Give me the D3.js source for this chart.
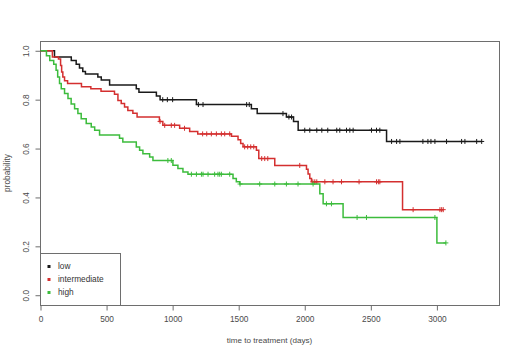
<!DOCTYPE html>
<html>
  <head>
    <title>KM curves</title>
    <script src="https://cdn.jsdelivr.net/npm/d3@7"></script>
    <style>
      body { margin: 0; background: #fff; }
      text { font-family: "Liberation Sans", Arial, sans-serif; }
    </style>
  </head>
  <body>
    <svg id="container" width="520" height="356"></svg>
    <script>
      // step times (days) and survival after each step, plus censor times
      const groups = ["low", "intermediate", "high"];
      const colors = ["#1a1a1a", "#d42f2f", "#3cbc3c"];

      const lowTimes = [106, 233, 270, 295, 320, 340, 434, 460, 523, 725, 745, 877, 905, 1180, 1596, 1640, 1861, 1915, 1950, 2619];
      const lowSurv = [0.975, 0.96, 0.945, 0.93, 0.915, 0.905, 0.893, 0.88, 0.86, 0.845, 0.83, 0.815, 0.80, 0.78, 0.763, 0.743, 0.729, 0.711, 0.675, 0.629];
      const lowCensor = [925, 960, 1000, 1195, 1230, 1560, 1580, 1835, 1880, 1900, 2000, 2038, 2091, 2129, 2174, 2242, 2265, 2316, 2341, 2366, 2505, 2543, 2568, 2657, 2695, 2720, 2894, 2932, 2955, 2985, 3073, 3187, 3212, 3301, 3339];

      const midTimes = [90, 136, 152, 160, 169, 182, 205, 310, 381, 458, 560, 586, 611, 636, 661, 699, 731, 900, 926, 1053, 1129, 1190, 1445, 1495, 1515, 1533, 1634, 1652, 1773, 2013, 2025, 2038, 2051, 2740];
      const midSurv = [0.975, 0.966, 0.94, 0.913, 0.893, 0.877, 0.866, 0.853, 0.845, 0.834, 0.822, 0.797, 0.784, 0.77, 0.756, 0.744, 0.729, 0.711, 0.695, 0.683, 0.67, 0.66, 0.65, 0.636, 0.621, 0.607, 0.593, 0.559, 0.531, 0.515, 0.496, 0.478, 0.464, 0.35];
      const midCensor = [905, 940, 990, 1015, 1090, 1227, 1258, 1293, 1331, 1369, 1394, 1432, 1545, 1568, 1591, 1614, 1674, 1697, 1720, 1962, 2061, 2076, 2091, 2152, 2214, 2278, 2411, 2543, 2557, 2568, 2820, 3023, 3036, 3048];

      const highTimes = [45, 70, 100, 118, 130, 144, 157, 182, 208, 232, 258, 283, 308, 346, 384, 410, 447, 598, 623, 725, 750, 775, 826, 851, 1002, 1040, 1078, 1116, 1457, 1482, 1508, 2114, 2139, 2290, 3000];
      const highSurv = [0.98, 0.96, 0.945, 0.92, 0.893, 0.866, 0.845, 0.825, 0.805, 0.782, 0.763, 0.743, 0.722, 0.702, 0.688, 0.675, 0.655, 0.642, 0.627, 0.606, 0.593, 0.579, 0.565, 0.551, 0.532, 0.518, 0.504, 0.495, 0.478, 0.464, 0.455, 0.415, 0.374, 0.318, 0.214];
      const highCensor = [964, 990, 1142, 1180, 1218, 1230, 1268, 1318, 1343, 1356, 1369, 1432, 1510, 1659, 1773, 1861, 1949, 2063, 2164, 2202, 2396, 2467, 2985, 3068];

      const xTicks = [0, 500, 1000, 1500, 2000, 2500, 3000];
      const yTicks = [0.0, 0.2, 0.4, 0.6, 0.8, 1.0];

      const svg = d3.select("#container");
      const plotLeft = 40, plotRight = 499, plotTop = 41, plotBottom = 305;

      const x = d3.scaleLinear().domain([0, 3470]).range([plotLeft + 0.5, plotRight]);
      const y = d3.scaleLinear().domain([-0.04, 1.04]).range([plotBottom, plotTop]);

      const axisColor = "#6e6e6e";
      const labelColor = "#4a4a4a";

      // plot box
      svg.append("rect")
        .attr("x", plotLeft + 0.5).attr("y", plotTop + 0.5)
        .attr("width", plotRight - plotLeft).attr("height", plotBottom - plotTop)
        .attr("fill", "none").attr("stroke", axisColor).attr("stroke-width", 1);

      // x axis
      const xAxis = d3.axisBottom(x).tickValues(xTicks).tickSize(5).tickPadding(6).tickFormat(d3.format("d"));
      const gx = svg.append("g").attr("transform", `translate(0,${plotBottom + 0.5})`).call(xAxis);
      gx.select(".domain").attr("stroke", axisColor).attr("d", `M${x(0)},0H${x(3000)}`);
      gx.selectAll(".tick line").attr("stroke", axisColor);
      gx.selectAll(".tick text").attr("fill", labelColor).attr("font-size", 8.3)
        .attr("font-family", "Liberation Sans, Arial, sans-serif");

      // y axis with rotated labels
      const yAxis = d3.axisLeft(y).tickValues(yTicks).tickSize(5).tickFormat(d3.format(".1f"));
      const gy = svg.append("g").attr("transform", `translate(${plotLeft + 0.5},0)`).call(yAxis);
      gy.select(".domain").attr("stroke", axisColor).attr("d", `M0,${y(0)}V${y(1)}`);
      gy.selectAll(".tick line").attr("stroke", axisColor);
      gy.selectAll(".tick text")
        .attr("fill", labelColor).attr("font-size", 8.3)
        .attr("font-family", "Liberation Sans, Arial, sans-serif")
        .attr("x", null).attr("dy", null)
        .attr("text-anchor", "middle")
        .attr("transform", "translate(-12,0) rotate(-90)");

      // axis titles
      svg.append("text")
        .attr("x", (plotLeft + plotRight) / 2).attr("y", 343)
        .attr("text-anchor", "middle").attr("font-size", 8.1).attr("fill", labelColor)
        .text("time to treatment (days)");
      svg.append("text")
        .attr("transform", `translate(10,${(plotTop + plotBottom) / 2}) rotate(-90)`)
        .attr("text-anchor", "middle").attr("font-size", 8.3).attr("fill", labelColor)
        .text("probability");

      const series = [
        { times: lowTimes, surv: lowSurv, censor: lowCensor },
        { times: midTimes, surv: midSurv, censor: midCensor },
        { times: highTimes, surv: highSurv, censor: highCensor }
      ];

      const line = d3.line().x(d => x(d[0])).y(d => y(d[1])).curve(d3.curveStepAfter);

      function survAt(s, t) {
        let v = 1;
        s.times.forEach((tt, i) => { if (tt <= t) v = s.surv[i]; });
        return v;
      }

      series.forEach((s, i) => {
        const end = d3.max([d3.max(s.censor), d3.max(s.times)]);
        const pts = [[0, 1]].concat(s.times.map((t, j) => [t, s.surv[j]]));
        pts.push([end, s.surv[s.surv.length - 1]]);

        svg.append("path")
          .attr("d", line(pts))
          .attr("fill", "none")
          .attr("stroke", colors[i])
          .attr("stroke-width", 1.5);

        const marks = svg.append("g").attr("stroke", colors[i]).attr("stroke-width", 1);
        marks.selectAll("path")
          .data(s.censor)
          .enter().append("path")
          .attr("d", t => {
            const cx = x(t), cy = y(survAt(s, t));
            return `M${cx - 2.5},${cy}H${cx + 2.5}M${cx},${cy - 2.5}V${cy + 2.5}`;
          });
      });

      // legend
      const legend = svg.append("g");
      legend.append("rect")
        .attr("x", plotLeft + 0.5).attr("y", 253.5)
        .attr("width", 80).attr("height", plotBottom - 253)
        .attr("fill", "#fff").attr("stroke", axisColor).attr("stroke-width", 1);
      const rows = legend.selectAll(".row")
        .data(groups)
        .enter().append("g")
        .attr("transform", (d, i) => `translate(0,${266.5 + i * 13})`);
      rows.append("rect")
        .attr("x", 47.5).attr("y", -1.5).attr("width", 3).attr("height", 3)
        .attr("fill", (d, i) => colors[i]);
      rows.append("text")
        .attr("x", 58).attr("dy", "0.35em")
        .attr("font-size", 8.3).attr("fill", "#333")
        .text(d => d);
    </script>
  </body>
</html>
